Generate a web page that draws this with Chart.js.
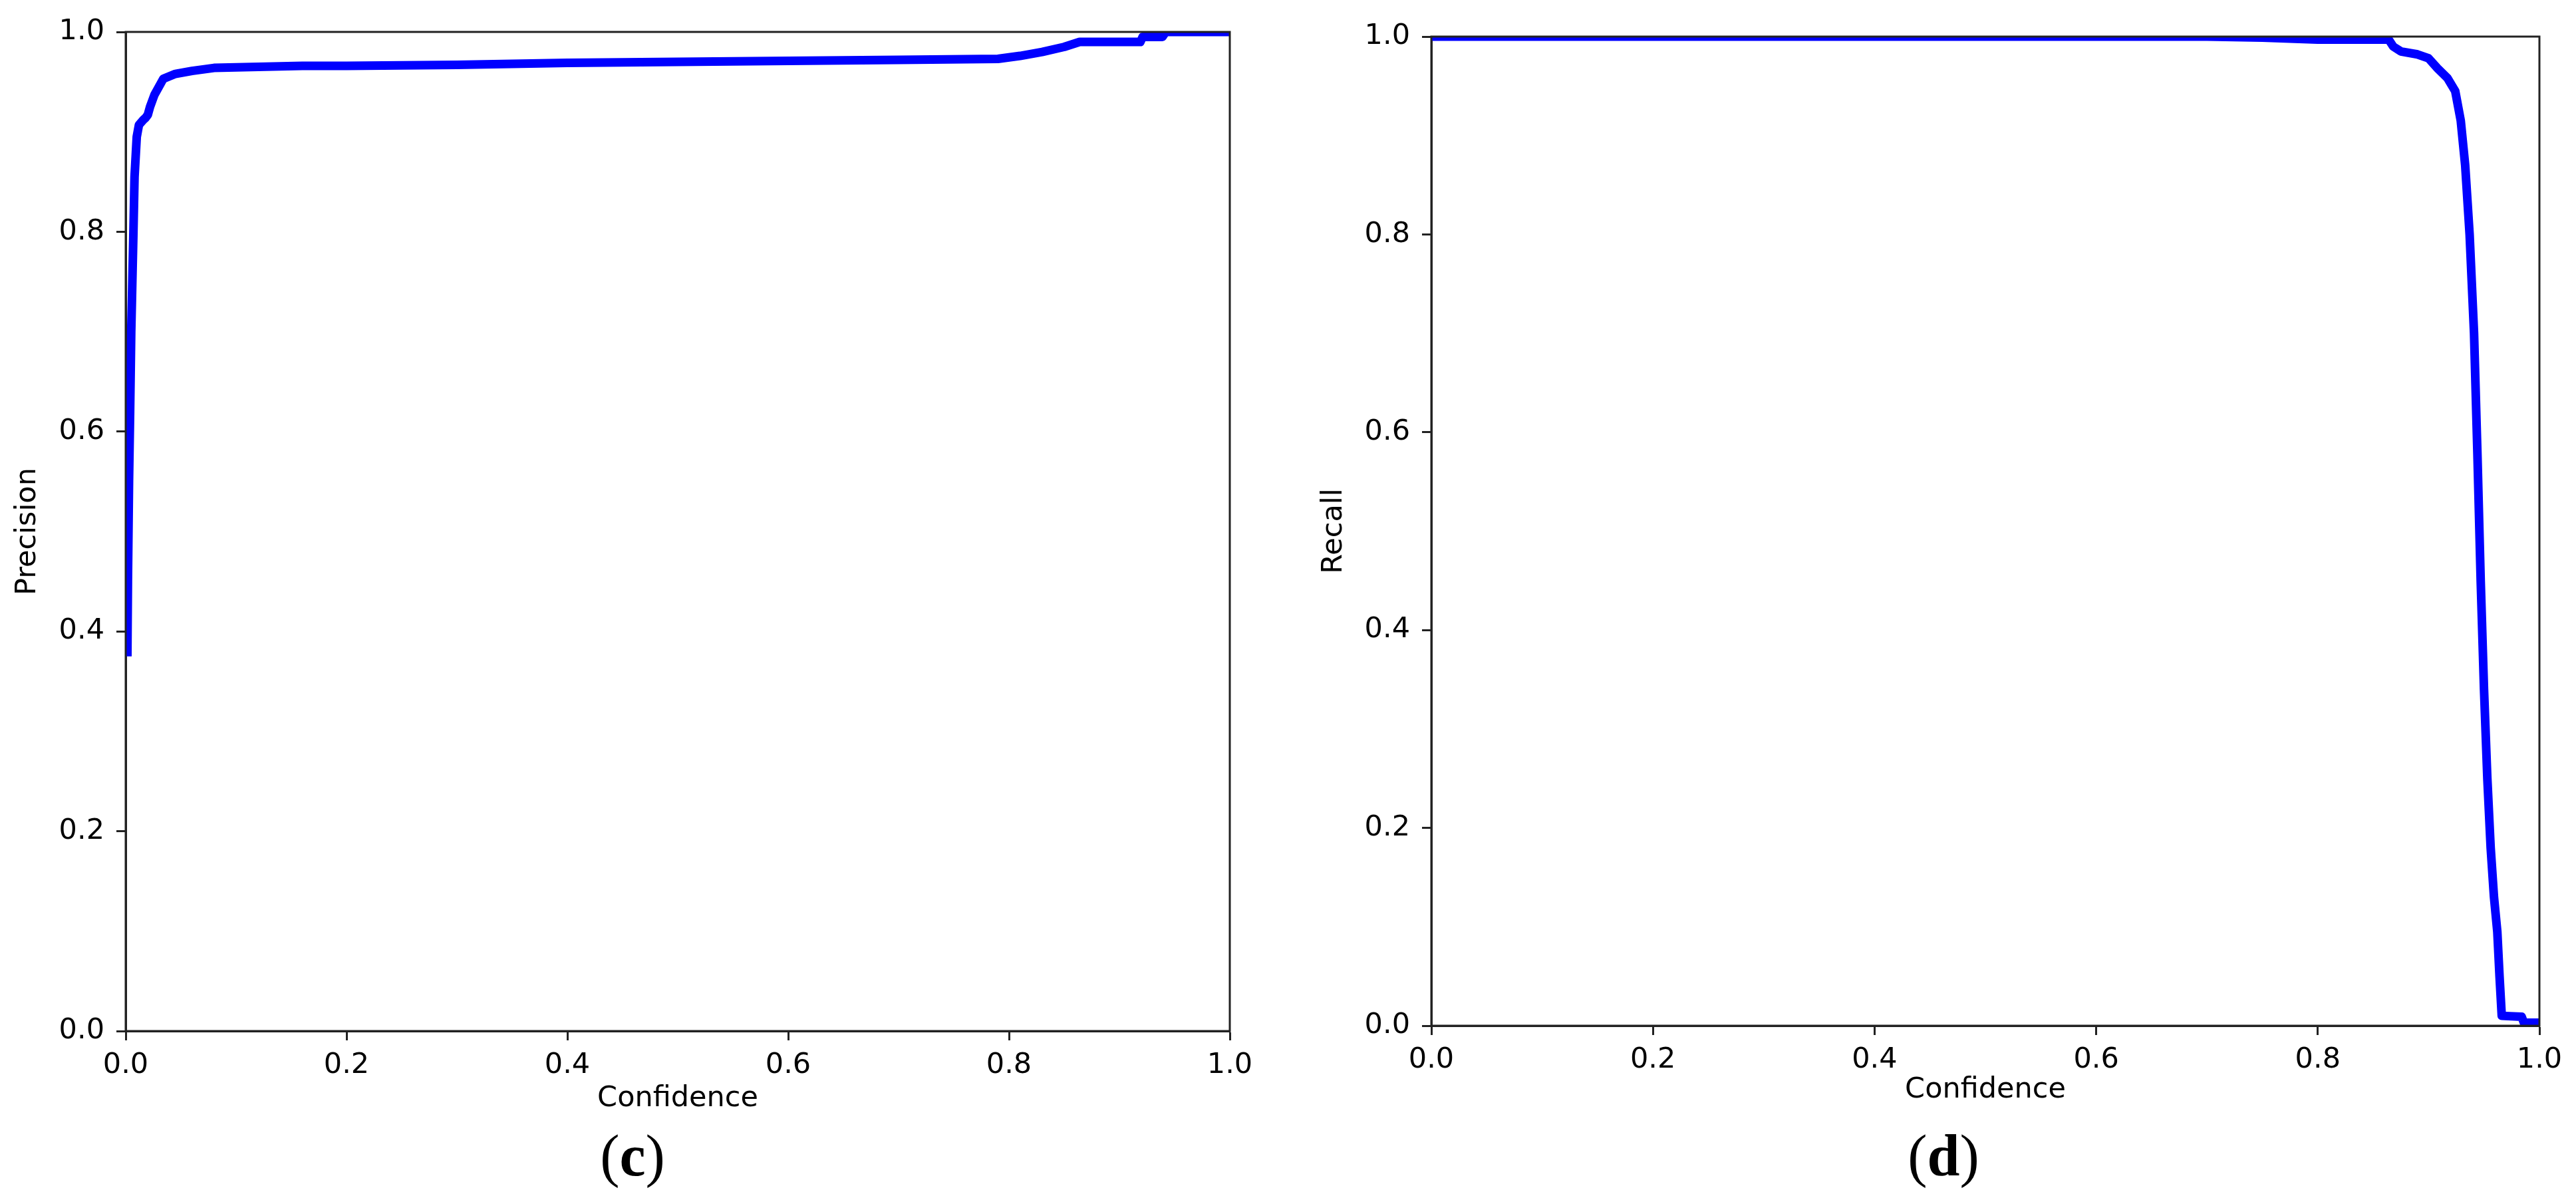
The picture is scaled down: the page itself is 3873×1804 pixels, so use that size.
<!DOCTYPE html>
<html>
<head>
<meta charset="utf-8">
<script src="https://cdn.jsdelivr.net/npm/chart.js@4.4.1/dist/chart.umd.min.js"></script>
<style>
  body { margin: 0; background: #fff; }
  .wrap { position: relative; width: 3873px; height: 1804px; background: #fff; }
  canvas { position: absolute; top: 0; }
  .sub { position: absolute; width: 200px; text-align: center; font-family: "Liberation Serif", serif; font-size: 88px; line-height: 1; color: #000; }
</style>
</head>
<body>
<div class="wrap">
  <canvas id="precChart" width="1930" height="1700" style="left:0px"></canvas>
  <canvas id="recallChart" width="1933" height="1700" style="left:1940px"></canvas>
  <div class="sub" style="left:851px; top:1694px">(<b>c</b>)</div>
  <div class="sub" style="left:2822px; top:1694px">(<b>d</b>)</div>
</div>
<script>
// (c) precision vs confidence
const precisionConf = [0.0015, 0.002, 0.003, 0.004, 0.005, 0.007, 0.008, 0.010, 0.012, 0.016, 0.018, 0.020, 0.022, 0.026, 0.030, 0.034, 0.045, 0.060, 0.080, 0.120, 0.160, 0.200, 0.300, 0.400, 0.500, 0.600, 0.700, 0.790, 0.810, 0.830, 0.850, 0.864, 0.919, 0.921, 0.939, 0.942, 1.000];
const precision = [0.375, 0.45, 0.55, 0.62, 0.70, 0.80, 0.855, 0.895, 0.907, 0.912, 0.914, 0.917, 0.925, 0.937, 0.945, 0.953, 0.958, 0.961, 0.964, 0.965, 0.966, 0.966, 0.967, 0.969, 0.970, 0.971, 0.972, 0.973, 0.976, 0.980, 0.985, 0.990, 0.990, 0.995, 0.995, 1.0, 1.0];

// (d) recall vs confidence
const recallConf = [0.0, 0.5, 0.7, 0.75, 0.8, 0.864, 0.868, 0.875, 0.89, 0.9, 0.908, 0.917, 0.924, 0.929, 0.933, 0.937, 0.941, 0.944, 0.947, 0.950, 0.953, 0.956, 0.959, 0.962, 0.964, 0.966, 0.984, 0.986, 1.0];
const recall = [1.0, 1.0, 1.0, 0.999, 0.997, 0.997, 0.99, 0.985, 0.982, 0.978, 0.968, 0.958, 0.945, 0.915, 0.87, 0.8, 0.7, 0.58, 0.45, 0.34, 0.25, 0.18, 0.13, 0.095, 0.05, 0.01, 0.009, 0.003, 0.003];

const axisTicks = [0.0, 0.2, 0.4, 0.6, 0.8, 1.0];

const FONT = "'DejaVu Sans', sans-serif";

// matplotlib style box around the plot
const framePlugin = {
    id: 'frame',
    afterDraw(chart) {
        const { ctx, chartArea: a } = chart;
        ctx.save();
        ctx.strokeStyle = '#222';
        ctx.lineWidth = 3;
        ctx.strokeRect(a.left, a.top, a.right - a.left, a.bottom - a.top);
        ctx.restore();
    }
};

const makeChart = (id, xs, ys, yLabel, lay) => {
    const ctx = document.getElementById(id).getContext('2d');
    return new Chart(ctx, {
        type: 'line',
        data: {
            datasets: [{
                data: xs.map((x, i) => ({ x: x, y: ys[i] })),
                borderColor: '#0000ff',
                borderWidth: 13,
                borderJoinStyle: 'round',
                pointRadius: 0,
                tension: 0,
                fill: false,
                clip: 0
            }]
        },
        options: {
            responsive: false,
            animation: false,
            devicePixelRatio: 1,
            layout: { padding: { top: lay.top, right: lay.right, left: 0, bottom: 0 } },
            plugins: { legend: { display: false }, tooltip: { enabled: false } },
            scales: {
                x: {
                    type: 'linear',
                    min: 0, max: 1,
                    afterBuildTicks: (scale) => { scale.ticks = axisTicks.map(v => ({ value: v })); },
                    afterFit: (scale) => { scale.height = lay.xHeight; },
                    ticks: {
                        callback: (v) => Number(v).toFixed(1),
                        font: { family: FONT, size: 43 },
                        color: '#000',
                        padding: 12,
                        maxRotation: 0
                    },
                    grid: { drawOnChartArea: false, drawTicks: true, tickLength: 14, tickWidth: 3, tickColor: '#222' },
                    border: { display: true, color: '#222', width: 3 },
                    title: {
                        display: true,
                        text: 'Confidence',
                        font: { family: FONT, size: 43 },
                        color: '#000',
                        padding: { top: 0, bottom: lay.xTitlePad }
                    }
                },
                y: {
                    type: 'linear',
                    min: 0, max: 1,
                    afterBuildTicks: (scale) => { scale.ticks = axisTicks.map(v => ({ value: v })); },
                    afterFit: (scale) => { scale.width = lay.yWidth; },
                    ticks: {
                        callback: (v) => Number(v).toFixed(1),
                        font: { family: FONT, size: 43 },
                        color: '#000',
                        padding: 18
                    },
                    grid: { drawOnChartArea: false, drawTicks: true, tickLength: 14, tickWidth: 3, tickColor: '#222' },
                    border: { display: true, color: '#222', width: 3 },
                    title: {
                        display: true,
                        text: yLabel,
                        font: { family: FONT, size: 43 },
                        color: '#000',
                        padding: { top: lay.yTitlePad, bottom: 0 }
                    }
                }
            }
        },
        plugins: [framePlugin]
    });
};

makeChart('precChart', precisionConf, precision, 'Precision',
    { top: 48, right: 81, xHeight: 150, yWidth: 189, xTitlePad: 22, yTitlePad: 16 });
makeChart('recallChart', recallConf, recall, 'Recall',
    { top: 55, right: 55, xHeight: 158, yWidth: 212, xTitlePad: 35, yTitlePad: 40 });
</script>
</body>
</html>
